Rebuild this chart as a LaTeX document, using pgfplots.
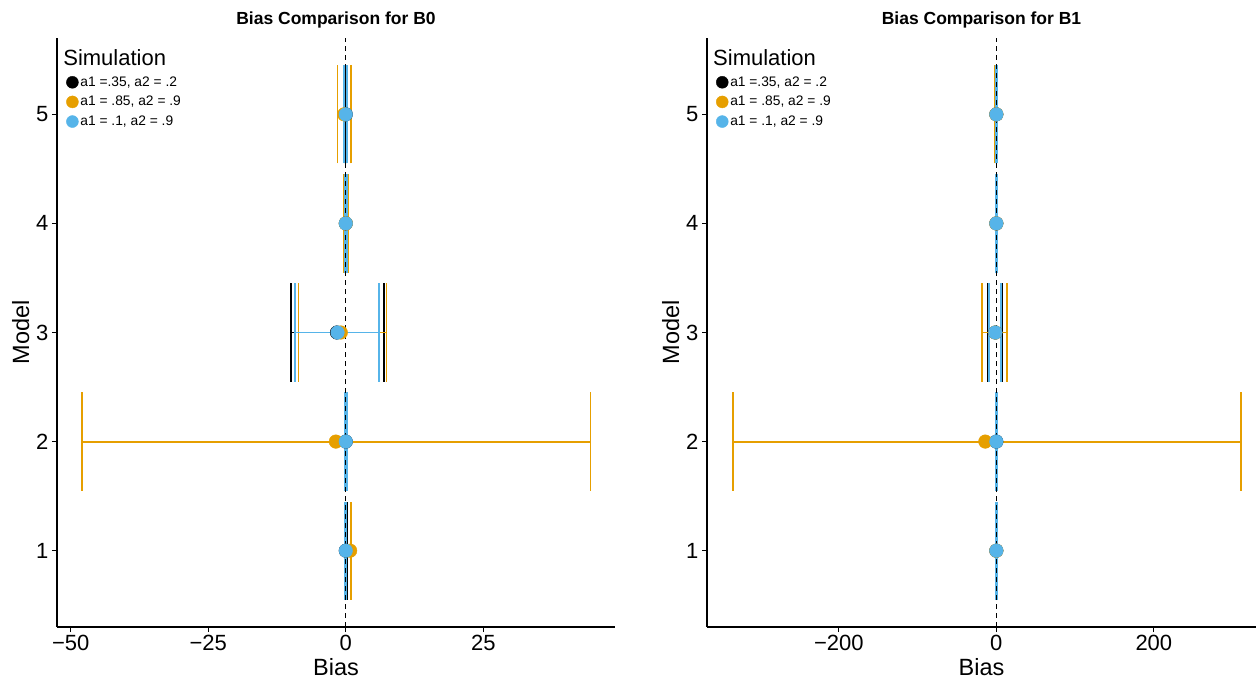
\documentclass[border=0pt]{standalone}
\usepackage{pgfplots}
\pgfplotsset{compat=1.18}
\usepackage{pgfplotstable}
\usepackage{fontspec}
\setmainfont{Liberation Sans}
\definecolor{cblack}{HTML}{000000}
\definecolor{corange}{HTML}{E69F00}
\definecolor{cblue}{HTML}{56B4E9}

% B0 tables: model, point estimate, interval low, interval high
\pgfplotstableread{
model x lo hi
1 0.0 -0.15 0.15
2 0.0 -0.2 0.2
3 -1.6 -10.0 7.0
4 0.0 -0.2 0.2
5 0.0 -0.2 0.2
}\bzeroblack
\pgfplotstableread{
model x lo hi
1 0.8 0.0 0.9
2 -1.8 -48.0 44.5
3 -0.9 -8.6 7.4
4 0.0 -0.35 0.35
5 -0.3 -1.5 1.0
}\bzeroorange
\pgfplotstableread{
model x lo hi
1 0.0 -0.1 0.1
2 0.0 -0.15 0.15
3 -1.5 -9.2 6.0
4 0.0 -0.2 0.2
5 0.0 -0.3 0.3
}\bzeroblue
% B1 tables
\pgfplotstableread{
model x lo hi
1 0.0 -0.5 0.5
2 0.0 -0.8 0.8
3 -1.3 -10.4 7.2
4 0.0 -0.5 0.5
5 0.0 -0.5 0.5
}\boneblack
\pgfplotstableread{
model x lo hi
1 0.0 -1.0 1.0
2 -14.0 -334.0 310.7
3 -1.3 -18.0 13.6
4 0.0 -1.0 1.0
5 0.0 -1.5 1.5
}\boneorange
\pgfplotstableread{
model x lo hi
1 0.0 -0.5 0.5
2 0.0 -0.5 0.5
3 -1.3 -8.9 6.3
4 0.0 -0.5 0.5
5 0.0 -0.5 0.5
}\boneblue

% horizontal error bar with end whiskers (height 0.9)
\newcommand\errbar[2]{%
  \addplot[forget plot, no marks, draw=#2, line width=1.9pt, -,
    quiver={u=\thisrow{hi}-\thisrow{lo}, v=0}] table[x=lo, y=model] {#1};
  \addplot[forget plot, no marks, draw=#2, line width=1.9pt, -,
    quiver={u=0, v=0.9}] table[x=lo, y expr=\thisrow{model}-0.45] {#1};
  \addplot[forget plot, no marks, draw=#2, line width=1.9pt, -,
    quiver={u=0, v=0.9}] table[x=hi, y expr=\thisrow{model}-0.45] {#1};
}
\newcommand\pts[2]{%
  \addplot[forget plot, only marks, mark=*, mark size=6.8pt,
    mark options={draw=#2, fill=#2}] table[x=x, y=model] {#1};
}

\pgfplotsset{
  myax/.style={scale only axis, height=589pt, ymin=0.3, ymax=5.7,
    ytick={1,2,3,4,5},
    axis x line*=bottom, axis y line*=left,
    axis line style={line width=1.1pt,-},
    tick align=outside, major tick length=5pt,
    tick style={line width=1.1pt, black},
    ticklabel style={font=\fontsize{22}{22}\selectfont},
    /pgf/number format/assume math mode=true,
    label style={font=\fontsize{23.5}{24}\selectfont},
    title style={font=\bfseries\fontsize{17.5}{18}\selectfont},
    ylabel={Model}, xlabel={Bias},
    legend style={at={(axis description cs:0.0165,0.938)}, anchor=north west,
      draw=none, fill=none, font=\fontsize{13.8}{14}\selectfont,
      row sep=4.5pt, inner sep=0pt},
    legend cell align=left,
  },
}

\begin{document}
\begin{tikzpicture}
\useasboundingbox (0,0) rectangle (1256pt,681pt);
% ---------- B0 ----------
\begin{axis}[myax, at={(57pt,54pt)}, anchor=south west, width=558pt,
  xmin=-52.5, xmax=48.95,
  xtick={-50,-25,0,25}, xticklabels={−50,−25,0,25},
  title={Bias Comparison for B0}]
\addlegendimage{only marks, mark=*, mark size=6pt, cblack}
\addlegendentry{a1 =.35, a2 = .2}
\addlegendimage{only marks, mark=*, mark size=6pt, corange}
\addlegendentry{a1 = .85, a2 = .9}
\addlegendimage{only marks, mark=*, mark size=6pt, cblue}
\addlegendentry{a1 = .1, a2 = .9}
\errbar{\bzeroblack}{cblack}
\errbar{\bzeroorange}{corange}
\errbar{\bzeroblue}{cblue}
\pts{\bzeroblack}{cblack}
\pts{\bzeroorange}{corange}
\pts{\bzeroblue}{cblue}
\addplot[forget plot, black, line width=1.3pt, dash pattern=on 5pt off 4pt] coordinates {(0,0.3) (0,5.7)};
\node[anchor=west, font=\fontsize{22}{22}\selectfont, inner sep=0pt] at (axis description cs:0.011,0.967) {Simulation};
\end{axis}
% ---------- B1 ----------
\begin{axis}[myax, at={(707pt,54pt)}, anchor=south west, width=549pt,
  xmin=-367.4, xmax=329.7,
  xtick={-200,0,200}, xticklabels={−200,0,200},
  title={Bias Comparison for B1}]
\addlegendimage{only marks, mark=*, mark size=6pt, cblack}
\addlegendentry{a1 =.35, a2 = .2}
\addlegendimage{only marks, mark=*, mark size=6pt, corange}
\addlegendentry{a1 = .85, a2 = .9}
\addlegendimage{only marks, mark=*, mark size=6pt, cblue}
\addlegendentry{a1 = .1, a2 = .9}
\errbar{\boneblack}{cblack}
\errbar{\boneorange}{corange}
\errbar{\boneblue}{cblue}
\pts{\boneblack}{cblack}
\pts{\boneorange}{corange}
\pts{\boneblue}{cblue}
\addplot[forget plot, black, line width=1.3pt, dash pattern=on 5pt off 4pt] coordinates {(0,0.3) (0,5.7)};
\node[anchor=west, font=\fontsize{22}{22}\selectfont, inner sep=0pt] at (axis description cs:0.011,0.967) {Simulation};
\end{axis}
\end{tikzpicture}
\end{document}
